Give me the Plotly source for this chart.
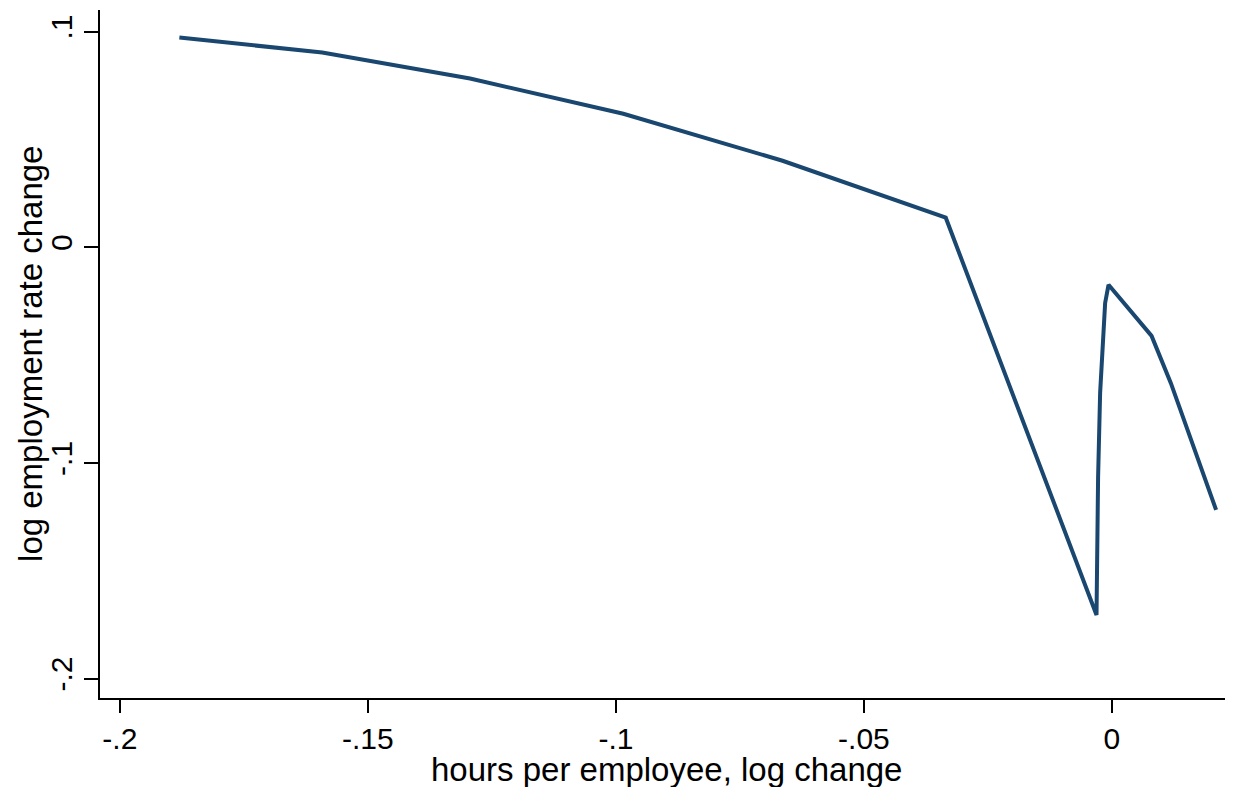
import plotly.graph_objects as go

hours_change = [-0.188, -0.1592, -0.1294, -0.0985, -0.0664, -0.0335, -0.00311,
                -0.00279, -0.00238, -0.00190, -0.00137, -0.00069, 0.00799, 0.01188, 0.0210]
emp_change = [0.0972, 0.0903, 0.0782, 0.0619, 0.0401, 0.0137, -0.1705,
              -0.1064, -0.0675, -0.0443, -0.0258, -0.0174, -0.0411, -0.0630, -0.1218]

x_tickvals = [-0.2, -0.15, -0.1, -0.05, 0]
x_ticktext = ["-.2", "-.15", "-.1", "-.05", "0"]
y_tickvals = [0.1, 0, -0.1, -0.2]
y_ticktext = [".1", "0", "-.1", "-.2"]

x_title = "hours per employee, log change"
y_title = "log employment rate change"

fig = go.Figure()
fig.add_trace(go.Scatter(x=hours_change, y=emp_change, mode="lines",
                         line=dict(color="#1a476f", width=4), showlegend=False))

family = "Liberation Sans, Arial, sans-serif"
font = dict(family=family, size=30, color="black")
# page body has an 8px default margin; compensate in figure size and margins
fig.update_layout(
    width=1225, height=779,
    margin=dict(l=92, r=3, t=2, b=89),
    paper_bgcolor="white", plot_bgcolor="white",
    font=font,
    xaxis=dict(range=[-0.204, 0.0238], tickvals=x_tickvals, ticktext=x_ticktext,
               automargin=False,
               showgrid=False, zeroline=False, showline=True, linecolor="black", linewidth=2,
               ticks="outside", ticklen=13, tickwidth=1.5, tickcolor="black"),
    yaxis=dict(range=[-0.209, 0.110], tickvals=y_tickvals, ticktext=y_ticktext,
               tickangle=-90, automargin=False,
               showgrid=False, zeroline=False, showline=True, linecolor="black", linewidth=2,
               ticks="outside", ticklen=14, tickwidth=1.5, tickcolor="black"),
    annotations=[
        dict(text=x_title, xref="paper", yref="paper", x=0.501, y=-0.1045,
             xanchor="center", yanchor="middle", showarrow=False,
             font=dict(family=family, size=33, color="black")),
        dict(text=y_title, xref="paper", yref="paper", x=-0.062, y=0.5,
             xanchor="center", yanchor="middle", textangle=-90, showarrow=False,
             font=dict(family=family, size=33, color="black")),
    ],
)
fig.write_html("out.html")
